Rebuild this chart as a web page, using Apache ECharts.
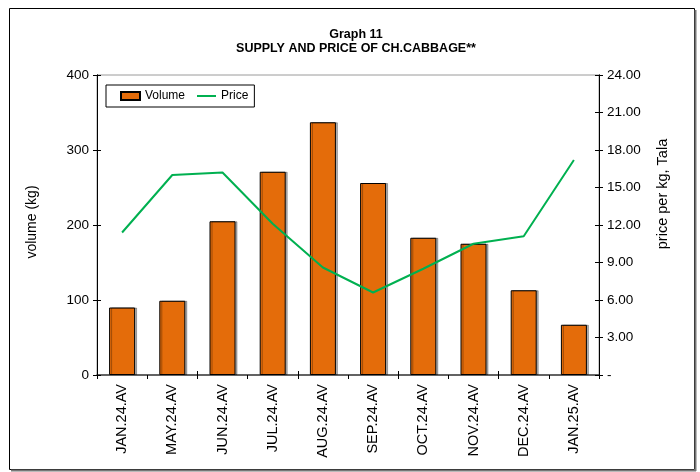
<!DOCTYPE html>
<html>
<head>
<meta charset="utf-8">
<script src="https://cdn.jsdelivr.net/npm/echarts@6/dist/echarts.min.js"></script>
<style>html,body{margin:0;padding:0;background:#fff}#c{width:700px;height:472px}</style>
</head>
<body>
<div id="c"></div>
<script>
var categories = ['JAN.24.AV','MAY.24.AV','JUN.24.AV','JUL.24.AV','AUG.24.AV','SEP.24.AV','OCT.24.AV','NOV.24.AV','DEC.24.AV','JAN.25.AV'];
var volume = [90, 99, 205, 271, 337, 256, 183, 175, 113, 67];
var price = [11.4, 16.0, 16.2, 12.1, 8.6, 6.6, 8.5, 10.5, 11.1, 17.2];
var volumeTicks = [0, 400, 100];
var priceTicks = [0, 24, 3];

var FONT = 'Liberation Sans, Arial, sans-serif';
var chart = echarts.init(document.getElementById('c'), null, {renderer: 'canvas'});
var tickLen = 4;
function yAx(i, pos, t, inside, labels, fmt) {
  return {
    type: 'value', position: pos, min: t[0], max: t[1], interval: t[2],
    axisLine: {show: true, lineStyle: {color: '#000', width: 1}},
    axisTick: {show: true, inside: inside, length: tickLen, lineStyle: {color: '#000'}},
    splitLine: {show: false},
    axisLabel: {show: labels, color: '#000', fontFamily: FONT, fontSize: 13.5, margin: 8, formatter: fmt}
  };
}
chart.setOption({
  backgroundColor: '#fff',
  animation: false,
  textStyle: {fontFamily: FONT},
  title: {
    text: 'Graph 11\nSUPPLY AND PRICE OF CH.CABBAGE**',
    left: 351, top: 23, textAlign: 'center',
    textStyle: {fontFamily: FONT, fontSize: 12.5, fontWeight: 'bold', color: '#000', lineHeight: 14}
  },
  legend: {
    left: 106, top: 85,
    orient: 'horizontal',
    borderColor: '#000', borderWidth: 1,
    padding: [5, 6, 5, 14],
    itemGap: 11,
    itemWidth: 19, itemHeight: 8,
    textStyle: {fontFamily: FONT, fontSize: 12, color: '#000'},
    data: [{name: 'Volume', icon: 'rect'}, {name: 'Price', itemStyle: {opacity: 0}}]
  },
  grid: {left: 97, right: 101, top: 75, bottom: 97, show: true, borderColor: '#9a9a9a', borderWidth: 1, containLabel: false},
  xAxis: [{
    type: 'category', data: categories, position: 'bottom',
    axisLine: {show: true, lineStyle: {color: '#404040', width: 1.5}},
    axisTick: {show: true, inside: false, length: tickLen, lineStyle: {color: '#000'}},
    axisLabel: {rotate: 90, color: '#000', fontFamily: FONT, fontSize: 14.5, margin: 9, interval: 0}
  }, {
    type: 'category', data: categories, position: 'bottom',
    axisLine: {show: false},
    axisTick: {show: true, inside: true, length: tickLen, lineStyle: {color: '#000'}},
    axisLabel: {show: false}
  }],
  yAxis: [
    yAx(0, 'left', volumeTicks, false, true, function(v){return String(v);}),
    yAx(1, 'right', priceTicks, false, true, function(v){return v === 0 ? '-' : v.toFixed(2);}),
    yAx(2, 'left', volumeTicks, true, false),
    yAx(3, 'right', priceTicks, true, false)
  ],
  series: [{
    name: 'Volume', type: 'bar', data: volume, xAxisIndex: 0, yAxisIndex: 0,
    barWidth: 26,
    itemStyle: {color: '#E46C0A', borderColor: '#000', borderWidth: 1,
      shadowColor: 'rgba(0,0,0,0.3)', shadowOffsetX: 2, shadowOffsetY: 0, shadowBlur: 0}
  }, {
    name: 'Price', type: 'line', data: price, xAxisIndex: 0, yAxisIndex: 1,
    symbol: 'none', showSymbol: false,
    lineStyle: {color: '#00B050', width: 2}, itemStyle: {color: '#00B050'}
  }],
  graphic: [
    {type: 'rect', shape: {x: 9.5, y: 8.5, width: 685, height: 461}, style: {fill: 'none', stroke: '#000', lineWidth: 1}, silent: true},
    {type: 'line', shape: {x1: 11, y1: 470.5, x2: 696, y2: 470.5}, style: {stroke: '#777', lineWidth: 2}, silent: true},
    {type: 'line', shape: {x1: 695.5, y1: 10, x2: 695.5, y2: 471}, style: {stroke: '#777', lineWidth: 2}, silent: true},
    {type: 'text', x: 32, y: 222, rotation: Math.PI / 2,
      style: {text: 'volume (kg)', font: '14px ' + FONT, fill: '#000', textAlign: 'center', textVerticalAlign: 'middle'}},
    {type: 'text', x: 663, y: 194, rotation: Math.PI / 2,
      style: {text: 'price per kg, Tala', font: '14.5px ' + FONT, fill: '#000', textAlign: 'center', textVerticalAlign: 'middle'}}
  ]
});
</script>
</body>
</html>
